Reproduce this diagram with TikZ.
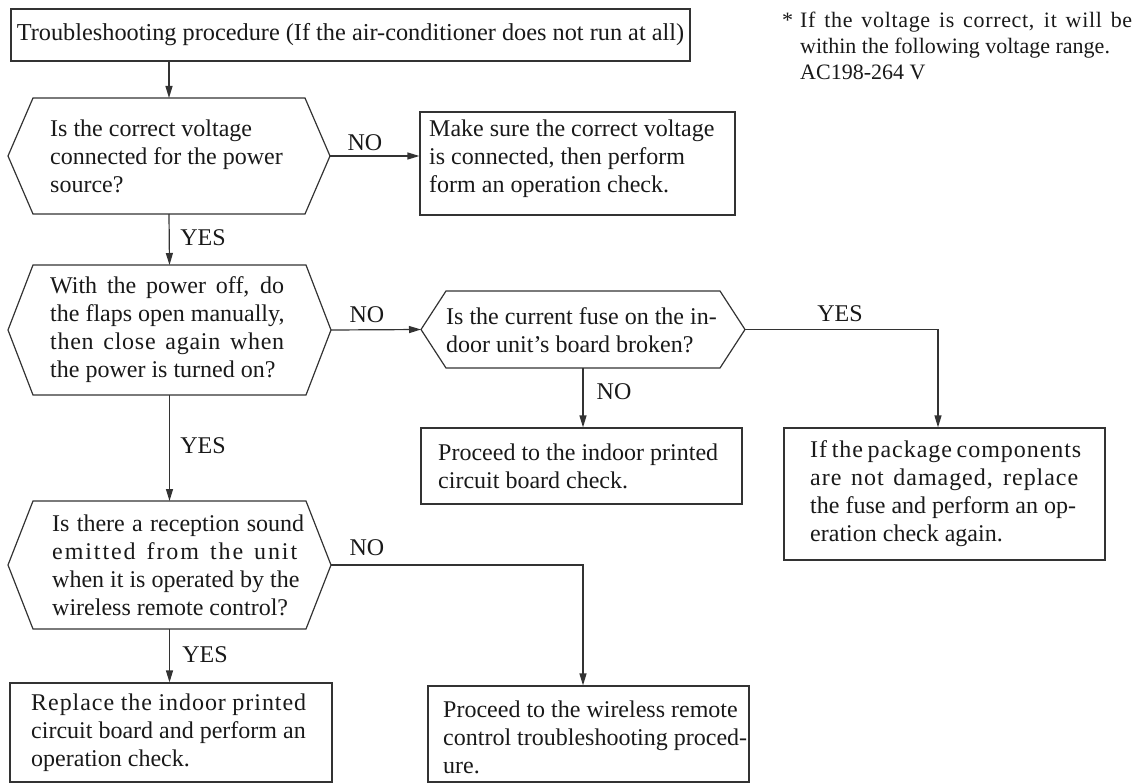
\documentclass[tikz,border=0pt]{standalone}
\usepackage{fontspec}
\setmainfont{Liberation Serif}
\usetikzlibrary{arrows.meta}
\newcommand\sprd[3][0]{\makebox[#2pt][s]{\addfontfeature{LetterSpace=#1}#3}}
\newcommand\hexa[6]{%
  \draw[ln] (#2,{(#4+#5)/2}) -- ({#2+#6},#4) -- ({#3-#6},#4) -- (#3,{(#4+#5)/2})
    -- ({#3-#6},#5) -- ({#2+#6},#5) -- cycle;
  \coordinate (#1-e) at (#3,{(#4+#5)/2});
  \coordinate (#1-w) at (#2,{(#4+#5)/2});
  \coordinate (#1-n) at ({(#2+#3)/2},#4);
  \coordinate (#1-s) at ({(#2+#3)/2},#5);
}
\begin{document}
\begin{tikzpicture}[x=1pt,y=-1pt,
  every node/.style={font=\fontsize{24}{28}\selectfont, text=black!90, inner sep=0pt},
  ln/.style={draw=black!80, line width=1.2pt},
  arr/.style={ln, -{Triangle[length=12pt,width=7pt]}},
  bx/.style={ln, rectangle},
  txt/.style={anchor=west, align=left}
]
\useasboundingbox (0,0) rectangle (1133,784);

% title
\node[bx, minimum width=679pt, minimum height=52pt, font=\fontsize{24.3}{28}\selectfont] (title) at (350.5,35)
  {Troubleshooting procedure (If the air-conditioner does not run at all)};

% footnote
\node[txt, font=\fontsize{22}{26}\selectfont] (note) at (800,46)
  {\llap{*\hspace{7pt}}\sprd[3]{332}{If the voltage is correct, it will be}\\
   within the following voltage range.\\ AC198-264 V};

% decision 1
\hexa{h1}{8}{330}{98}{214}{25}
\node[txt] (t1) at (50,156) {Is the correct voltage\\ connected for the power\\ source?};

% box 2
\node[bx, minimum width=315pt, minimum height=103pt] (b2) at (577.5,163.5) {};
\node[txt] (t2) at (429,159) {Make sure the correct voltage\\ is connected, then perform\\ form an operation check.};
\draw[arr] (title.south -| h1-n) -- (h1-n);
\draw[arr] (h1-e) -- (h1-e -| b2.west);
\node (n1) at (365,143) {NO};

% decision 2
\hexa{h2}{8}{331}{265}{395}{25}
\node[txt] (t2h) at (50,330) {\sprd{234}{With the power off, do}\\ the flaps open manually,\\ \sprd[3]{234}{then close again when}\\ the power is turned on?};
\draw[arr] (h1-s) -- (h2-n);
\node (y1) at (203,238) {YES};

% decision 3
\hexa{h3}{421}{745}{291}{368}{25}
\node[txt] (t3) at (446,330) {Is the current fuse on the in-\\ door unit’s board broken?};
\draw[arr] (h2-e) -- (h3-w);
\node (n2) at (367,315) {NO};

% box 4
\node[bx, minimum width=321pt, minimum height=76pt] (b4) at (581.5,466) {};
\node[txt] (t4) at (438,466) {Proceed to the indoor printed\\ circuit board check.};
\draw[arr] (h3-s) -- (h3-s |- b4.north);
\node (n3) at (614,392) {NO};

% box 5
\node[bx, minimum width=321pt, minimum height=132pt] (b5) at (944.5,494) {};
\node[txt] (t5) at (810,494) {\sprd[4]{268}{If the package components}\\ \sprd[4]{268}{are not damaged, replace}\\ the fuse and perform an op-\\ eration check again.};
\draw[arr] (h3-e) -| ([xshift=-6.5pt]b5.north);
\node (y2) at (840,314) {YES};

% decision 4
\hexa{h4}{8}{331}{501}{629}{25}
\node[txt] (t6) at (52,565) {\sprd{252}{Is there a reception sound}\\ \sprd[8]{245}{emitted from the unit}\\ when it is operated by the\\ wireless remote control?};
\draw[arr] (h2-s) -- (h4-n);
\node (y3) at (203,446) {YES};

% box 6
\node[bx, minimum width=322pt, minimum height=99pt] (b6) at (171,732.5) {};
\node[txt] (t7) at (31,733) {\sprd[4]{275}{Replace the indoor printed}\\ circuit board and perform an\\ operation check.};
\draw[arr] (h4-s) -- (h4-s |- b6.north);
\node (y4) at (205,655) {YES};

% box 7
\node[bx, minimum width=321pt, minimum height=96pt] (b7) at (588.5,734) {};
\node[txt] (t8) at (443,737) {Proceed to the wireless remote\\ control troubleshooting proced-\\ ure.};
\draw[arr] (h4-e) -| ([xshift=-5.5pt]b7.north);
\node (n4) at (367,548) {NO};
\end{tikzpicture}
\end{document}
